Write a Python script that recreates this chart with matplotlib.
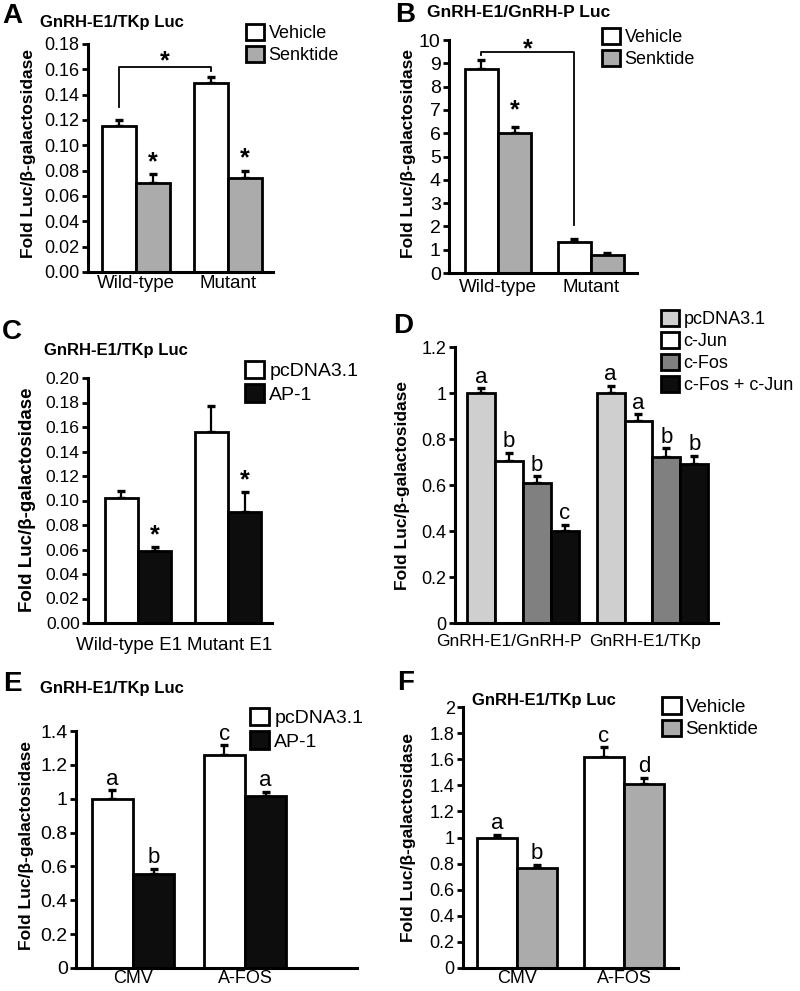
import numpy as np
import matplotlib
matplotlib.use('Agg')
import matplotlib.pyplot as plt
from matplotlib.patches import Patch
from matplotlib.transforms import ScaledTranslation

plt.rcParams['font.family'] = ['Liberation Sans', 'DejaVu Sans']

# ---- data ----
# A: GnRH-E1/TKp Luc, senktide
a_cats = ['Wild-type', 'Mutant']
a_vehicle = [0.115, 0.149]
a_vehicle_err = [0.005, 0.005]
a_senktide = [0.070, 0.074]
a_senktide_err = [0.007, 0.006]

# B: GnRH-E1/GnRH-P Luc, senktide
b_cats = ['Wild-type', 'Mutant']
b_vehicle = [8.75, 1.33]
b_vehicle_err = [0.40, 0.15]
b_senktide = [6.0, 0.78]
b_senktide_err = [0.25, 0.07]

# C: GnRH-E1/TKp Luc, AP-1
c_cats = ['Wild-type E1', 'Mutant E1']
c_pcdna = [0.102, 0.156]
c_pcdna_err = [0.006, 0.021]
c_ap1 = [0.059, 0.091]
c_ap1_err = [0.003, 0.016]

# D: c-Fos / c-Jun
d_cats = ['GnRH-E1/GnRH-P', 'GnRH-E1/TKp']
d_names = ['pcDNA3.1', 'c-Jun', 'c-Fos', 'c-Fos + c-Jun']
d_pcdna = [1.0, 1.0]
d_pcdna_err = [0.02, 0.03]
d_cjun = [0.704, 0.88]
d_cjun_err = [0.035, 0.027]
d_cfos = [0.607, 0.723]
d_cfos_err = [0.03, 0.036]
d_both = [0.401, 0.693]
d_both_err = [0.025, 0.033]
d_letters = [['a', 'a'], ['b', 'a'], ['b', 'b'], ['c', 'b']]

# E: A-FOS, AP-1
e_cats = ['CMV', 'A-FOS']
e_pcdna = [1.0, 1.26]
e_pcdna_err = [0.05, 0.055]
e_ap1 = [0.555, 1.015]
e_ap1_err = [0.03, 0.025]
e_letters = [['a', 'c'], ['b', 'a']]

# F: A-FOS, senktide
f_cats = ['CMV', 'A-FOS']
f_vehicle = [1.0, 1.62]
f_vehicle_err = [0.02, 0.07]
f_senktide = [0.77, 1.41]
f_senktide_err = [0.02, 0.045]
f_letters = [['a', 'c'], ['b', 'd']]

ylabel = 'Fold Luc/\u03b2-galactosidase'
grey = '#ababab'
black = '#0d0d0d'

W, H = 800, 991
fig = plt.figure(figsize=(8, 9.91), dpi=100)


def px_axes(x0, y0, x1, y1):
    return fig.add_axes([x0 / W, 1 - y1 / H, (x1 - x0) / W, (y1 - y0) / H])


def ftext(x, y, s, **kw):
    fig.text(x / W, 1 - y / H, s, **kw)


def draw_panel(ax, cats, vals, errs, colors, width, xlim, yticks, fmt,
               tick_fs=13, cat_fs=13.5, pad=4):
    n = len(vals)
    x = np.arange(len(cats))
    pos_all = []
    for i in range(n):
        pos = x + (i - (n - 1) / 2) * width
        ax.bar(pos, vals[i], width, color=colors[i], edgecolor='black',
               linewidth=2, zorder=2)
        ax.errorbar(pos, vals[i], yerr=[np.zeros(len(errs[i])), errs[i]],
                    fmt='none', ecolor='black', elinewidth=1.6, capsize=3,
                    capthick=2.4, zorder=1)
        pos_all.append(pos)
    ax.set_xlim(*xlim)
    ax.set_ylim(yticks[0], yticks[-1])
    ax.set_yticks(yticks)
    ax.set_yticklabels([fmt(t) for t in yticks], fontsize=tick_fs)
    ax.set_xticks(x)
    ax.set_xticklabels(cats, fontsize=cat_fs)
    ax.tick_params(axis='x', length=0, pad=pad)
    ax.tick_params(axis='y', direction='out', length=4, width=2, pad=2)
    for s in ['top', 'right']:
        ax.spines[s].set_visible(False)
    for s in ['left', 'bottom']:
        ax.spines[s].set_linewidth(2.2)
    ax.patch.set_alpha(0)
    return pos_all


def shift_labels(ax, offsets_px):
    for lab, dx in zip(ax.get_xticklabels(), offsets_px):
        lab.set_transform(lab.get_transform() + ScaledTranslation(dx / 100, 0, fig.dpi_scale_trans))


def add_legend(ax, names, colors, x, y, fs=13):
    handles = [Patch(facecolor=c, edgecolor='black', linewidth=2, label=l)
               for l, c in zip(names, colors)]
    ax.legend(handles=handles, loc='upper left',
              bbox_to_anchor=(x / W, 1 - y / H), bbox_transform=fig.transFigure,
              frameon=False, fontsize=fs, handlelength=1.0, handleheight=1.0,
              handletextpad=0.25, labelspacing=0.2, borderpad=0, borderaxespad=0)


def letters_above(ax, pos, vals, errs, labels, fs=16):
    for p, v, e, t in zip(pos, vals, errs, labels):
        ax.annotate(t, (p, v + e), xytext=(0, 0.5), textcoords='offset points',
                    ha='center', va='bottom', fontsize=fs)


def star(ax, x, y, dy=0):
    ax.annotate('*', (x, y), xytext=(0, dy), textcoords='offset points',
                ha='center', va='bottom', fontsize=18, fontweight='bold')


def fmt2(t):
    return '%.2f' % t


def fmtg(t):
    return '%g' % t


def fmt_int(t):
    return '%d' % t


# ---------- A ----------
axA = px_axes(88, 44, 273, 272)
pA = draw_panel(axA, a_cats, [a_vehicle, a_senktide], [a_vehicle_err, a_senktide_err],
                ['white', grey], 0.37, (-0.522, 1.489), np.arange(0, 0.181, 0.02), fmt2,
                pad=2)
for p, v, e in zip(pA[1], a_senktide, a_senktide_err):
    star(axA, p, v + e)
axA.plot([pA[0][0], pA[0][0], pA[0][1], pA[0][1]], [0.130, 0.162, 0.162, 0.159],
         color='black', lw=1.3)
star(axA, (pA[0][0] + pA[0][1]) / 2, 0.157)
add_legend(axA, ['Vehicle', 'Senktide'], ['white', grey], 246, 24)
ftext(2, 23, 'A', fontsize=20, fontweight='bold')
ftext(40, 27, 'GnRH-E1/TKp Luc', fontsize=12, fontweight='bold')
ftext(28, 153, ylabel, rotation=90, ha='center', va='center', fontsize=12.5, fontweight='bold')

# ---------- B ----------
axB = px_axes(449, 40, 637, 273)
pB = draw_panel(axB, b_cats, [b_vehicle, b_senktide], [b_vehicle_err, b_senktide_err],
                ['white', grey], 0.355, (-0.527, 1.495), np.arange(0, 11, 1), fmt_int,
                tick_fs=14, pad=4)
star(axB, pB[1][0], b_senktide[0] + b_senktide_err[0], dy=4)
axB.plot([pB[0][0], pB[0][0], pB[0][1], pB[0][1]], [9.35, 9.5, 9.5, 2.05],
         color='black', lw=1.3)
star(axB, (pB[0][0] + pB[0][1]) / 2, 9.08)
add_legend(axB, ['Vehicle', 'Senktide'], ['white', grey], 602, 28)
ftext(395, 22, 'B', fontsize=20, fontweight='bold')
ftext(427, 17, 'GnRH-E1/GnRH-P Luc', fontsize=12.5, fontweight='bold')
ftext(409, 153, ylabel, rotation=90, ha='center', va='center', fontsize=12.5, fontweight='bold')

# ---------- C ----------
axC = px_axes(88, 378, 272, 623)
pC = draw_panel(axC, c_cats, [c_pcdna, c_ap1], [c_pcdna_err, c_ap1_err],
                ['white', black], 0.37, (-0.556, 1.489), np.arange(0, 0.201, 0.02), fmt2,
                tick_fs=12.6, pad=10)
shift_labels(axC, [-9, 2])
for p, v, e in zip(pC[1], c_ap1, c_ap1_err):
    star(axC, p, v + e)
add_legend(axC, ['pcDNA3.1', 'AP-1'], ['white', black], 245, 361, fs=14)
ftext(2, 339, 'C', fontsize=20, fontweight='bold')
ftext(44, 355, 'GnRH-E1/TKp Luc', fontsize=12, fontweight='bold')
ftext(28, 500, ylabel, rotation=90, ha='center', va='center', fontsize=13.5, fontweight='bold')

# ---------- D ----------
d_colors = ['#cfcfcf', 'white', '#808080', black]
d_vals = [d_pcdna, d_cjun, d_cfos, d_both]
d_errs = [d_pcdna_err, d_cjun_err, d_cfos_err, d_both_err]
axD = px_axes(455, 347, 718, 623)
pD = draw_panel(axD, d_cats, d_vals, d_errs, d_colors, 0.216, (-0.525, 1.506),
                np.round(np.arange(0, 1.21, 0.2), 1), fmtg, cat_fs=12.5, pad=8)
shift_labels(axD, [-14, -7])
for i in range(4):
    letters_above(axD, pD[i], d_vals[i], d_errs[i], d_letters[i])
add_legend(axD, d_names, d_colors, 661, 310)
ftext(393, 333, 'D', fontsize=20, fontweight='bold')
ftext(403, 486, ylabel, rotation=90, ha='center', va='center', fontsize=12.5, fontweight='bold')

# ---------- E ----------
axE = px_axes(76, 731, 357, 968)
pE = draw_panel(axE, e_cats, [e_pcdna, e_ap1], [e_pcdna_err, e_ap1_err],
                ['white', black], 0.37, (-0.509, 2.0), np.round(np.arange(0, 1.41, 0.2), 1), fmtg,
                tick_fs=14, cat_fs=13, pad=1.5)
letters_above(axE, pE[0], e_pcdna, e_pcdna_err, e_letters[0])
letters_above(axE, pE[1], e_ap1, e_ap1_err, e_letters[1])
add_legend(axE, ['pcDNA3.1', 'AP-1'], ['white', black], 250, 708, fs=14)
ftext(3, 691, 'E', fontsize=20, fontweight='bold')
ftext(40, 693, 'GnRH-E1/TKp Luc', fontsize=12, fontweight='bold')
ftext(27, 846, ylabel, rotation=90, ha='center', va='center', fontsize=12.5, fontweight='bold')

# ---------- F ----------
axF = px_axes(463, 707, 678, 968)
pF = draw_panel(axF, f_cats, [f_vehicle, f_senktide], [f_vehicle_err, f_senktide_err],
                ['white', grey], 0.374, (-0.505, 1.505), np.round(np.arange(0, 2.01, 0.2), 1), fmtg,
                cat_fs=13, pad=1.5)
letters_above(axF, pF[0], f_vehicle, f_vehicle_err, f_letters[0])
letters_above(axF, pF[1], f_senktide, f_senktide_err, f_letters[1])
add_legend(axF, ['Vehicle', 'Senktide'], ['white', grey], 662, 697, fs=13.5)
ftext(397, 690, 'F', fontsize=20, fontweight='bold')
ftext(472, 705, 'GnRH-E1/TKp Luc', fontsize=12, fontweight='bold')
ftext(408, 838, ylabel, rotation=90, ha='center', va='center', fontsize=12.5, fontweight='bold')

fig.savefig('out.png', dpi=100)
